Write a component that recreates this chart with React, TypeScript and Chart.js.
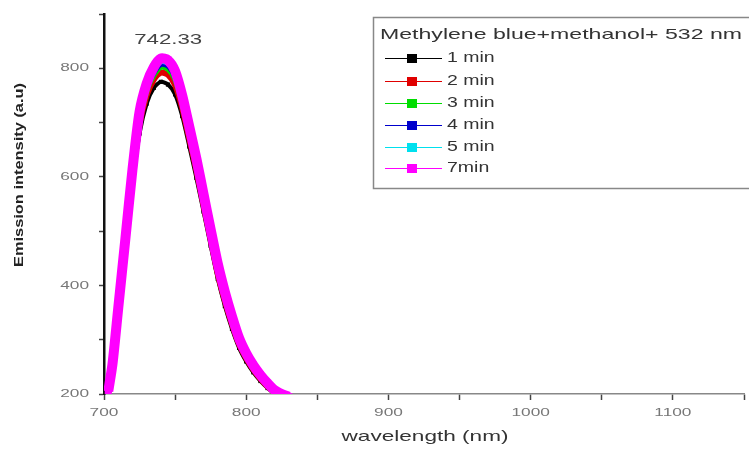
import React, { useEffect, useRef } from "react";
import { Chart, registerables } from "chart.js";
Chart.register(...registerables);

const FONT = '"Liberation Sans", Arial, sans-serif';

const wavelengths = [703, 706, 710, 715, 720, 725, 730, 735, 740, 745, 750, 755, 760, 765, 770, 775, 780, 785, 790, 795, 800, 805, 810, 815, 820, 825, 830];
const min1 = [200, 245, 340, 462, 585, 680, 735, 764, 775, 770, 752, 712, 656, 598, 536, 473, 412, 362, 320, 285, 260, 240, 224, 211, 201, 195, 191];
const min2 = [202, 249, 347, 471, 596, 697, 750, 779, 792, 788, 769, 727, 670, 612, 548, 485, 422, 372, 329, 292, 266, 245, 228, 214, 203, 197, 192];
const min3 = [203, 252, 351, 477, 603, 706, 759, 788, 803, 799, 780, 736, 679, 620, 556, 492, 429, 378, 335, 297, 270, 248, 231, 217, 205, 198, 193];
const min4 = [204, 253, 353, 480, 606, 710, 763, 793, 808, 805, 785, 741, 683, 624, 560, 495, 432, 381, 337, 299, 271, 249, 232, 218, 205, 198, 194];
const min5 = [204, 255, 356, 483, 610, 715, 768, 798, 813, 810, 790, 745, 688, 628, 564, 499, 436, 384, 340, 301, 273, 251, 233, 219, 206, 199, 194];
const min7 = [205, 256, 358, 485, 613, 720, 772, 802, 818, 815, 795, 750, 692, 633, 568, 503, 440, 388, 343, 303, 275, 253, 235, 220, 207, 200, 195];

const seriesLabels = ["1 min", "2 min", "3 min", "4 min", "5 min", "7min"];
const seriesValues = [min1, min2, min3, min4, min5, min7];
const seriesColors = ["#000000", "#e00000", "#00dd00", "#0000cc", "#00e0ee", "#ff00ff"];

const legendTitle = "Methylene blue+methanol+ 532 nm";
const peakLabel = "742.33";
const peakX = 742.33;
const xTitle = "wavelength (nm)";
const yTitle = "Emission intensity (a.u)";
const yLabelTicks = [200, 400, 600, 800];
const xLabelTicks = [700, 800, 900, 1000, 1100];

function drawText(ctx: CanvasRenderingContext2D, text: string, x: number, y: number, font: string, color: string, opts: { width?: number; sx?: number; align?: string; rotate?: boolean }) {
  ctx.save();
  ctx.font = font;
  ctx.fillStyle = color;
  ctx.textBaseline = "middle";
  ctx.textAlign = "left";
  const w = ctx.measureText(text).width;
  const s = opts.width ? opts.width / w : opts.sx || 1;
  const total = w * s;
  ctx.translate(x, y);
  if (opts.rotate) ctx.rotate(-Math.PI / 2);
  const align = opts.align || "center";
  const left = align === "center" ? -total / 2 : align === "right" ? -total : 0;
  ctx.translate(left, 0);
  ctx.scale(s, 1);
  ctx.fillText(text, 0, 0);
  ctx.restore();
}

const textPlugin = {
  id: "customText",
  afterDraw(chart: any) {
    const ctx: CanvasRenderingContext2D = chart.ctx;
    const xs = chart.scales.x;
    const ys = chart.scales.y;
    const tickFont = `11.5px ${FONT}`;
    yLabelTicks.forEach((v) => {
      drawText(ctx, String(v), 89, ys.getPixelForValue(v), tickFont, "#777", { sx: 1.5, align: "right" });
    });
    xLabelTicks.forEach((v) => {
      drawText(ctx, String(v), xs.getPixelForValue(v), 413, tickFont, "#777", { sx: 1.5, align: "center" });
    });
    drawText(ctx, xTitle, 425, 437, `15px ${FONT}`, "#333", { width: 167 });
    drawText(ctx, yTitle, 20, 175, `bold 12px ${FONT}`, "#222", { width: 184, rotate: true });
    drawText(ctx, peakLabel, xs.getPixelForValue(peakX) + 4, 40, `15px ${FONT}`, "#444", { width: 68 });
    ctx.save();
    ctx.fillStyle = "#ffffff";
    ctx.fillRect(373, 17, 380, 171);
    ctx.strokeStyle = "#888";
    ctx.lineWidth = 1.5;
    ctx.strokeRect(373.5, 17.5, 380, 171);
    ctx.restore();
    drawText(ctx, legendTitle, 380, 35, `15px ${FONT}`, "#333", { width: 362, align: "left" });
    const rows = [58, 81, 103, 125, 147, 168];
    seriesLabels.forEach((lab, i) => {
      const y = rows[i];
      ctx.save();
      ctx.strokeStyle = seriesColors[i];
      ctx.lineWidth = 1;
      ctx.beginPath();
      ctx.moveTo(385, y + 0.5);
      ctx.lineTo(442, y + 0.5);
      ctx.stroke();
      ctx.fillStyle = seriesColors[i];
      ctx.fillRect(407, y - 4, 10, 9);
      ctx.restore();
      drawText(ctx, lab, 447, y, `15px ${FONT}`, "#333", { sx: 1.3, align: "left" });
    });
  },
};

export default function App() {
  const ref = useRef<HTMLCanvasElement>(null);
  useEffect(() => {
    if (!ref.current) return;
    const datasets = seriesValues.map((vals, i) => {
      const isTop = i === seriesValues.length - 1;
      return {
        label: seriesLabels[i],
        data: wavelengths.map((w, j) => ({ x: w, y: vals[j] })),
        borderColor: seriesColors[i],
        backgroundColor: seriesColors[i],
        borderWidth: isTop ? 10 : i === 0 ? 4 : 6,
        pointStyle: "rect" as const,
        pointRadius: isTop ? 5 : 3,
        pointBorderWidth: 0,
        tension: 0.25,
        order: seriesValues.length - 1 - i,
      };
    });
    const chart = new Chart(ref.current, {
      type: "line",
      data: { datasets },
      plugins: [textPlugin],
      options: {
        animation: false,
        responsive: false,
        devicePixelRatio: 1,
        layout: { padding: { top: 14, right: 1, left: 0, bottom: 0 } },
        plugins: { legend: { display: false }, tooltip: { enabled: false } },
        scales: {
          x: {
            type: "linear",
            min: 700,
            max: 1150,
            afterFit: (s: any) => { s.height = 56; },
            ticks: { stepSize: 50, color: "rgba(0,0,0,0)", font: { size: 1 } },
            grid: { drawOnChartArea: false, drawTicks: true, tickLength: 6, tickColor: "#444", tickWidth: 1.5 },
            border: { color: "#888", width: 1.5 },
          },
          y: {
            type: "linear",
            min: 200,
            max: 900,
            afterFit: (s: any) => { s.width = 104; },
            ticks: { stepSize: 100, color: "rgba(0,0,0,0)", font: { size: 1 } },
            grid: { drawOnChartArea: false, drawTicks: true, tickLength: 5, tickColor: "#444", tickWidth: 1.5 },
            border: { color: "#111", width: 2.5 },
          },
        },
      },
    });
    return () => chart.destroy();
  }, []);
  return (
    <div style={{ position: "fixed", left: 0, top: 0, width: 749, height: 450, background: "#fff" }}>
      <canvas ref={ref} width={749} height={450} />
    </div>
  );
}
